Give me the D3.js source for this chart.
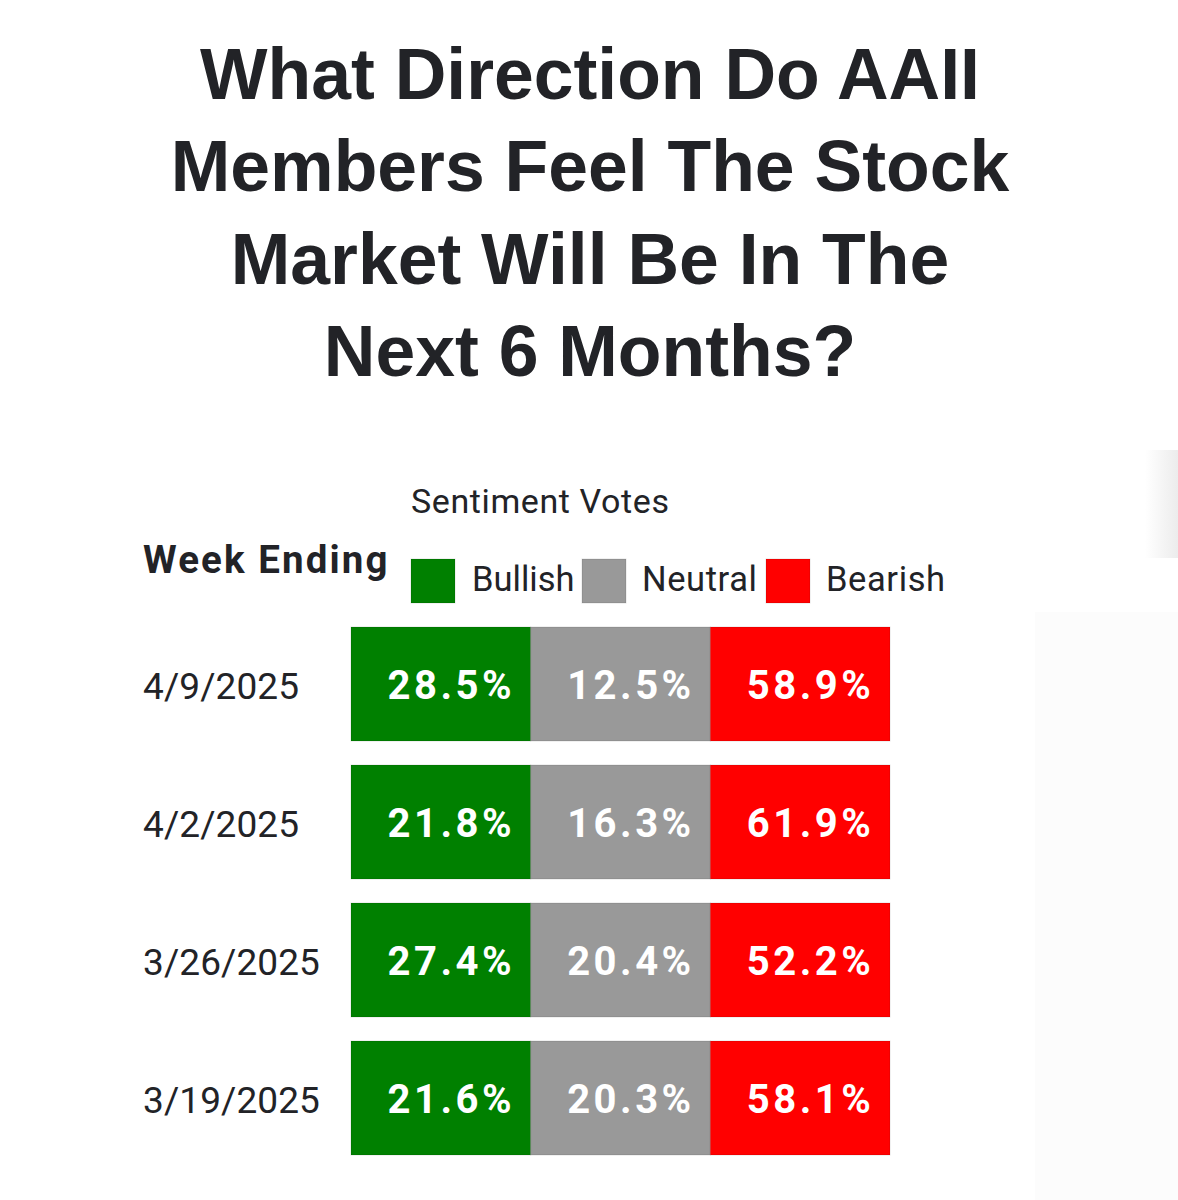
<!DOCTYPE html>
<html>
<head>
<meta charset="utf-8">
<script src="https://cdn.jsdelivr.net/npm/d3@7"></script>
<style>
  html, body { margin: 0; padding: 0; background: #ffffff; }
  svg { display: block; }
</style>
</head>
<body>
<svg id="chart" width="1178" height="1200"></svg>
<script>
// ---- data ----
const titleLines = ["What Direction Do AAII", "Members Feel The Stock", "Market Will Be In The", "Next 6 Months?"];
const weeks = ["4/9/2025", "4/2/2025", "3/26/2025", "3/19/2025"];
const seriesNames = ["Bullish", "Neutral", "Bearish"];
const bullish = [28.5, 21.8, 27.4, 21.6];
const neutral = [12.5, 16.3, 20.4, 20.3];
const bearish = [58.9, 61.9, 52.2, 58.1];
const seriesColors = ["#008000", "#999999", "#ff0000"];
const legendTitle = "Sentiment Votes";
const rowHeader = "Week Ending";

const values = [bullish, neutral, bearish];
const cells = [];
weeks.forEach((w, i) => seriesNames.forEach((s, j) => cells.push({ week: w, series: s, value: values[j][i] })));

const svg = d3.select("#chart");
const ink = "#222327";

// faint background artifacts at right edge
const defs = svg.append("defs");
const g1 = defs.append("linearGradient").attr("id", "shade").attr("x1", 0).attr("x2", 1);
g1.append("stop").attr("offset", 0).attr("stop-color", "#ffffff");
g1.append("stop").attr("offset", 1).attr("stop-color", "#ececec");
svg.append("rect").attr("x", 1145).attr("y", 450).attr("width", 33).attr("height", 108).attr("fill", "url(#shade)");
svg.append("rect").attr("x", 1035).attr("y", 612).attr("width", 143).attr("height", 588).attr("fill", "#fcfcfc");

// ---- title ----
svg.append("g").selectAll("text").data(titleLines).join("text")
  .attr("x", 590)
  .attr("y", (d, i) => 99 + i * 92.3)
  .attr("text-anchor", "middle")
  .attr("font-family", "'Liberation Sans', Arial, sans-serif")
  .attr("font-weight", "bold")
  .attr("font-size", 71.5)
  .attr("fill", ink)
  .text(d => d);

// ---- scales ----
const y = d3.scaleBand().domain(weeks).range([627, 1155]).paddingInner(24 / 138).paddingOuter(0);
const x = d3.scaleBand().domain(seriesNames).range([351, 890]).padding(0);
const color = d3.scaleOrdinal().domain(seriesNames).range(seriesColors);

// ---- headers ----
svg.append("text")
  .attr("x", 411).attr("y", 513)
  .attr("font-family", "Roboto, sans-serif")
  .attr("font-size", 34)
  .attr("letter-spacing", 0.6)
  .attr("fill", ink)
  .text(legendTitle);

svg.append("text")
  .attr("x", 143).attr("y", 573)
  .attr("font-family", "Roboto, sans-serif")
  .attr("font-weight", "bold")
  .attr("font-size", 38.5)
  .attr("letter-spacing", 2.1)
  .attr("fill", ink)
  .text(rowHeader);

// ---- legend ----
const legendX = [411, 582, 766];
const leg = svg.append("g").selectAll("g").data(seriesNames).join("g")
  .attr("transform", (d, i) => `translate(${legendX[i]},559)`);
leg.append("rect").attr("width", 44).attr("height", 44)
  .attr("fill", d => color(d))
  .attr("stroke", "rgba(0,0,0,0.12)");
leg.append("text")
  .attr("x", (d, i) => [61, 60, 60][i]).attr("y", 32)
  .attr("font-family", "Roboto, sans-serif")
  .attr("font-size", 34.5)
  .attr("letter-spacing", (d, i) => [0, 0.6, 0.6][i])
  .attr("fill", ink)
  .text(d => d);

// ---- row labels ----
svg.append("g").selectAll("text").data(weeks).join("text")
  .attr("x", 143)
  .attr("y", d => y(d) + y.bandwidth() / 2 + 15)
  .attr("font-family", "Roboto, sans-serif")
  .attr("font-size", 37)
  .attr("letter-spacing", 0.1)
  .attr("fill", ink)
  .text(d => d);

// ---- cells ----
const cg = svg.append("g").selectAll("g").data(cells).join("g");
cg.append("rect")
  .attr("x", d => x(d.series))
  .attr("y", d => y(d.week))
  .attr("width", x.bandwidth())
  .attr("height", y.bandwidth())
  .attr("fill", d => color(d.series))
  .attr("stroke", "rgba(0,0,0,0.12)")
  .attr("stroke-width", 1);
cg.append("text")
  .attr("x", d => x(d.series) + 36.5)
  .attr("y", d => y(d.week) + y.bandwidth() / 2 + 15)
  .attr("font-family", "Roboto, sans-serif")
  .attr("font-weight", "bold")
  .attr("font-size", 40)
  .attr("letter-spacing", 3.5)
  .attr("fill", "#ffffff")
  .text(d => d3.format(".1f")(d.value) + "%");
</script>
</body>
</html>
